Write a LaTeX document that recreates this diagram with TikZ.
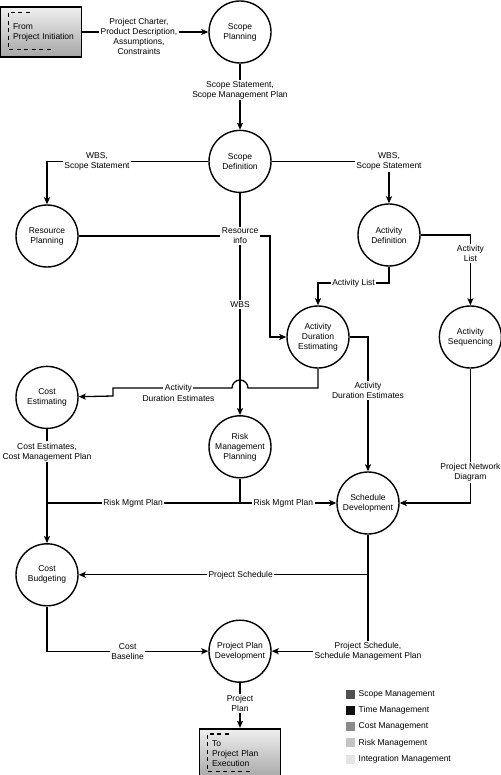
\documentclass[tikz,border=0pt]{standalone}
\usepackage{fontspec}
\setmainfont{Liberation Sans}
\usetikzlibrary{arrows.meta,positioning}
\definecolor{scopegray}{RGB}{80,80,80}
\definecolor{timegray}{RGB}{16,16,16}
\definecolor{costgray}{RGB}{138,138,138}
\definecolor{riskgray}{RGB}{196,196,196}
\definecolor{integgray}{RGB}{228,228,228}

\begin{document}
\begin{tikzpicture}[x=1pt, y=-1pt,
        every node/.style={font=\fontsize{8.5}{10}\selectfont},
        proc/.style={circle, draw, line width=1.4pt, minimum size=62pt, inner sep=0pt, align=center},
        term/.style={rectangle, draw, line width=1.6pt, top color=gray!12, bottom color=gray!70, minimum width=81pt, minimum height=50pt, text width=56pt, inner xsep=12.5pt, align=left},
        bracket/.style={dash pattern=on 4pt off 3.5pt, line width=1.3pt},
        link/.style={line width=1.3pt},
        arrow/.style={link, -{Stealth[length=7pt, width=6pt, inset=1.5pt]}},
        lbl/.style={fill=white, align=center, inner sep=1.5pt},
        swatch/.style={rectangle, minimum size=9pt, inner sep=0pt}
    ]
        \useasboundingbox (0,0) rectangle (500,775);
        \node[proc] (splan) at (240,32) {Scope\\Planning};
        \node[proc, below=66pt of splan] (sdef) {Scope\\Definition};
        \node[proc, below=222pt of sdef] (risk) {Risk\\Management\\Planning};
        \node[proc, below=141pt of risk] (ppd) {Project Plan\\Development};
        \node[term, below=45pt of ppd] (to) {To\\\mbox{Project Plan}\\Execution};
        \node[term, left=126pt of splan] (from) {From\\\mbox{Project Initiation}};
        \node[proc] (rplan) at (47,236) {Resource\\Planning};
        \node[proc, below=98pt of rplan] (cest) {Cost\\Estimating};
        \node[proc, below=114pt of cest] (cbud) {Cost\\Budgeting};
        \node[proc] (adef) at (389,235) {Activity\\Definition};
        \node[proc] (ade) at (318,337) {Activity\\Duration\\Estimating};
        \node[proc, right=89pt of ade] (aseq) {Activity\\Sequencing};
        \node[proc] (sdev) at (368,503) {Schedule\\Development};
        \foreach \b in {from, to}
            \draw[bracket] ([xshift=30pt, yshift=-6pt]\b.north west) -- ([xshift=8.5pt, yshift=-6pt]\b.north west)
                -- ([xshift=8.5pt, yshift=8pt]\b.south west) -- ([xshift=54pt, yshift=8pt]\b.south west);
        % scope
        \draw[arrow] (from) -- node[lbl, pos=0.45, yshift=-4pt] {Project Charter,\\Product Description,\\Assumptions,\\Constraints} (splan);
        \draw[arrow] (splan) -- node[lbl, pos=0.4] {Scope Statement,\\Scope Management Plan} (sdef);
        \draw[arrow] (sdef) -| node[lbl, pos=0.345] {WBS,\\Scope Statement} (rplan);
        \draw[arrow] (sdef) -| node[lbl] {WBS,\\Scope Statement} (adef);
        \draw[arrow] (sdef) -- node[lbl] {WBS} (risk);
        \coordinate (rbend) at (270,236);
        \draw[arrow] (rplan) -- node[lbl, pos=0.844] {Resource\\info} (rbend) |- (ade);
        % time
        \coordinate (abend) at (389,283);
        \draw[arrow] (adef) -- (abend) -| node[lbl, pos=0.25] {Activity List} (ade);
        \draw[arrow] (adef) -| node[lbl, pos=0.632] {Activity\\List} (aseq);
        \coordinate (hop) at (240,388);
        \coordinate (jog) at (113,388);
        \draw[arrow] (ade) |- ([xshift=8pt]hop) arc[start angle=0, end angle=180, radius=8pt]
            -- node[lbl, pos=0.45, label={[inner sep=0.5pt]below:Duration Estimates}] {Activity} (jog) -- ++(0,8) -- (cest);
        \draw[arrow] (ade) -| node[lbl, pos=0.70] {Activity\\Duration Estimates} (sdev);
        \draw[arrow] (aseq) |- node[lbl, pos=0.385] {Project Network\\Diagram} (sdev);
        % risk
        \coordinate (rjoin) at (risk |- sdev);
        \draw[link] (risk) -- (rjoin) -- node[lbl, pos=0.554] {Risk Mgmt Plan} (cest |- rjoin);
        \draw[arrow] (rjoin) -- node[lbl, pos=0.45] {Risk Mgmt Plan} (sdev);
        % cost
        \draw[arrow] (cest) -- node[lbl, pos=0.2] {Cost Estimates,\\Cost Management Plan} (cbud);
        \coordinate (sjoin) at (sdev |- cbud);
        \draw[arrow] (sdev) |- node[lbl] {Project Schedule,\\Schedule Management Plan} (ppd);
        \draw[arrow] (sjoin) -- node[lbl, pos=0.44] {Project Schedule} (cbud);
        \draw[arrow] (cbud) |- node[lbl, pos=0.75] {Cost\\Baseline} (ppd);
        \draw[arrow] (ppd) -- node[lbl, pos=0.45] {Project\\Plan} (to);
        % legend
        \foreach \col/\txt [count=\i] in {scopegray/Scope Management, timegray/Time Management, costgray/Cost Management, riskgray/Risk Management, integgray/Integration Management}
            \node[swatch, fill=\col, label={[name=keytext\i]right:\txt}] (key\i) at (350.5, {678+16.2*\i}) {};
    \end{tikzpicture}
\end{document}
